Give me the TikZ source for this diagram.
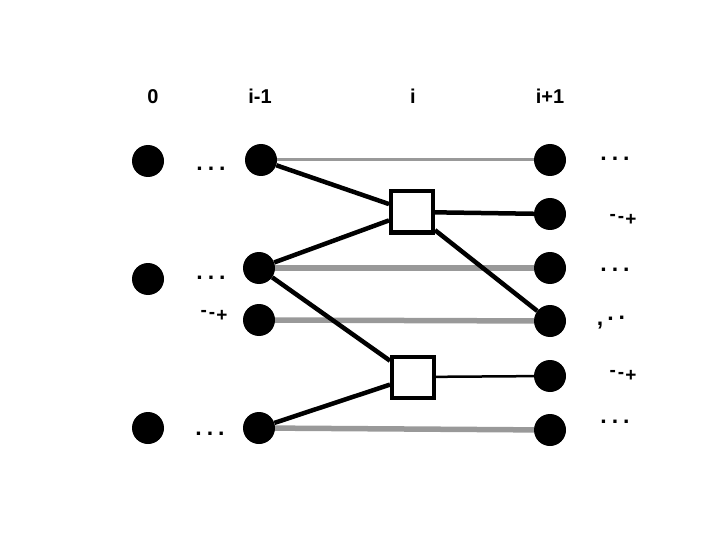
\documentclass[tikz,border=0pt]{standalone}
\usepackage{fontspec}
\setmainfont{Liberation Sans}
\newcommand{\dotsx}{.\hspace{5pt}.\hspace{5pt}.}
\newcommand{\dashplus}{\raisebox{2pt}{-}\hspace{2pt}\raisebox{0pt}{-}\hspace{1pt}\raisebox{-3pt}{+}}
\begin{document}
\begin{tikzpicture}[x=1pt,y=-1pt,
  dot/.style={circle,fill=black,inner sep=0pt,minimum size=32pt},
  gate/.style={draw=black,line width=4pt,fill=white,minimum width=42pt,minimum height=41pt,inner sep=0pt},
  lbl/.style={font=\fontsize{20}{22}\selectfont\bfseries,inner sep=0pt,anchor=base},
  ell/.style={font=\fontsize{23}{25}\selectfont\bfseries,inner sep=0pt,anchor=base},
  sml/.style={font=\fontsize{19}{21}\selectfont\bfseries,inner sep=0pt},
  grayw/.style={draw=black!40,line width=5.5pt},
  grayt/.style={draw=black!40,line width=3pt},
  blk/.style={draw=black,line width=4.5pt},
  blkt/.style={draw=black,line width=2.5pt}]
\useasboundingbox (0,0) rectangle (720,540);
% column labels
\node[lbl] (l0) at (153,104) {0};
\node[lbl] (l1) at (260,104) {i-1};
\node[lbl] (l2) at (413,104) {i};
\node[lbl] (l3) at (550,104) {i+1};
% column 0
\node[dot] (a1) at (148,161) {};
\node[dot] (a2) at (148,279) {};
\node[dot] (a3) at (148,428) {};
% column i-1
\node[dot] (b1) at (261,160) {};
\node[dot] (b2) at (259,268) {};
\node[dot] (b3) at (259,320) {};
\node[dot] (b4) at (259,428) {};
% column i+1
\node[dot] (c1) at (550,160) {};
\node[dot] (c2) at (550,214) {};
\node[dot] (c3) at (550,268) {};
\node[dot] (c4) at (550,321) {};
\node[dot] (c5) at (550,376) {};
\node[dot] (c6) at (550,430) {};
% gates
\node[gate] (g1) at (412,212) {};
\node[gate] (g2) at (413,377) {};
% ellipses
\node[ell] (e1) at (211,171) {\dotsx};
\node[ell] (e2) at (211,279) {\dotsx};
\node[ell] (e3) at (210,435) {\dotsx};
\node[ell] (e4) at (615,161) {\dotsx};
\node[ell] (e5) at (615,271) {\dotsx};
\node[ell] (e6) at (615,423) {\dotsx};
\node[sml] (s1) at (214,316) {\dashplus};
\node[sml] (s2) at (623,220) {\dashplus};
\node[sml] (s3) at (623,376) {\dashplus};
\node[ell] (s4) at (611,323) {\raisebox{-2pt}{,}\hspace{4pt}\raisebox{3pt}{.}\hspace{5pt}\raisebox{4pt}{.}};
% gray wires
\draw[grayt] (b1) -- (c1);
\draw[grayw] (b2) -- (c3);
\draw[grayw] (b3) -- (c4);
\draw[grayw] (b4) -- (c6);
% black wires
\draw[blk] (b1) -- (g1);
\draw[blk] (b2) -- (g1);
\draw[blk] (b2) -- (g2);
\draw[blk] (b4) -- (g2);
\draw[blk] (g1) -- (c2);
\draw[blk] (g1) -- (c4);
\draw[blkt] (g2) -- (c5);
% redraw gates on top
\node[gate] at (g1) {};
\node[gate] at (g2) {};
\end{tikzpicture}
\end{document}
